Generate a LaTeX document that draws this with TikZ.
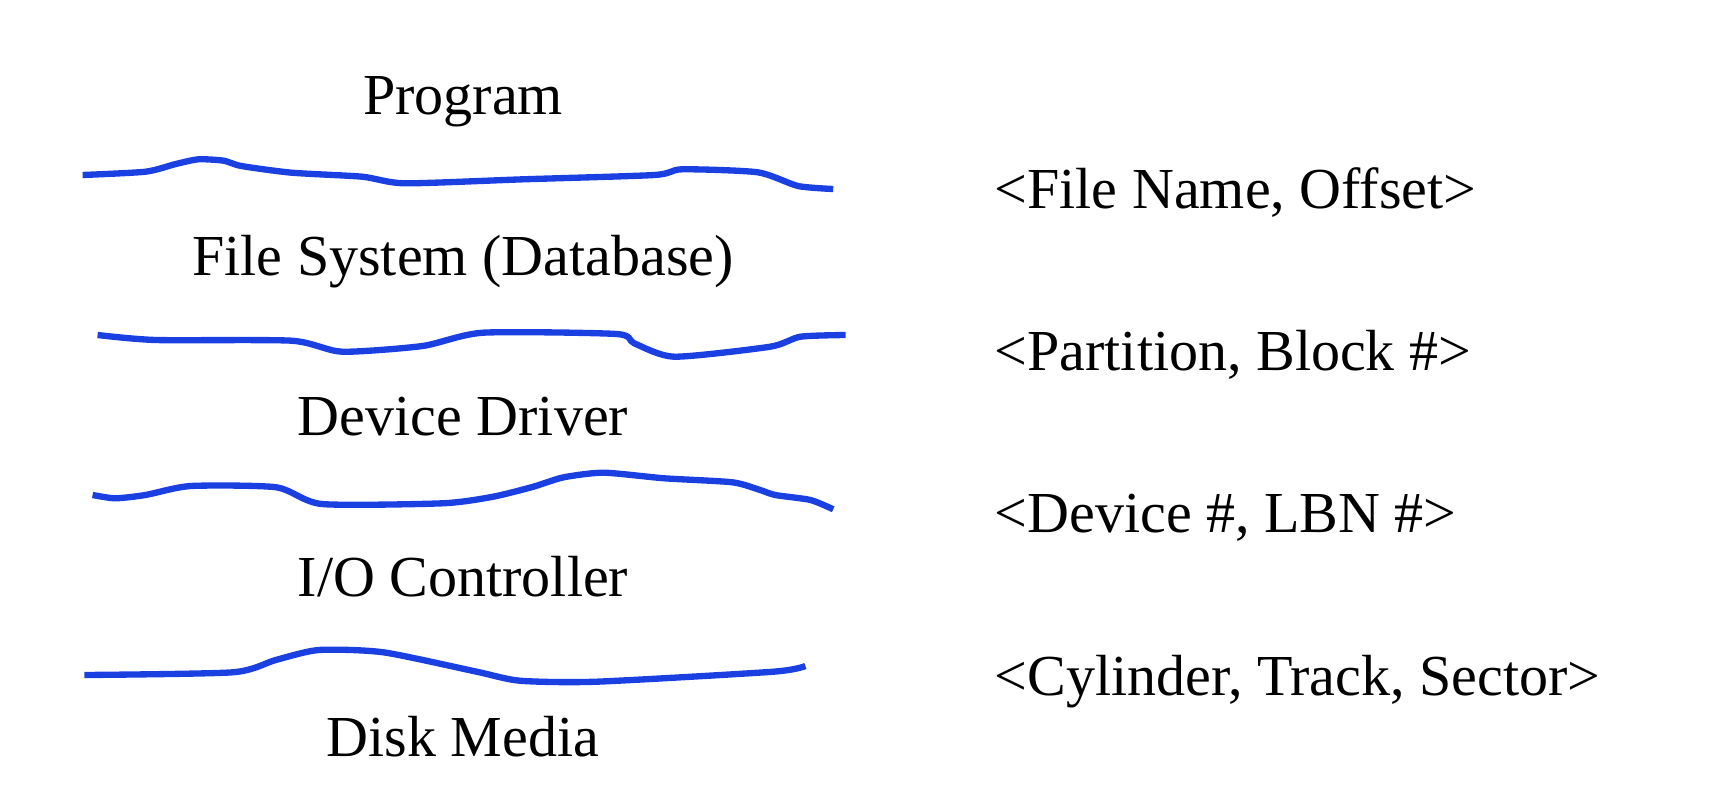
\documentclass[tikz,border=0pt]{standalone}
\usepackage{fontspec}
\setmainfont{Liberation Serif}
\definecolor{inkblue}{RGB}{27,64,226}
\begin{document}
\begin{tikzpicture}[x=0.01cm,y=-0.01cm,
  lbl/.style={inner sep=0pt,anchor=base,font=\fontsize{16.5}{20}\selectfont},
  rlbl/.style={inner sep=0pt,anchor=base west,font=\fontsize{16.5}{20}\selectfont},
  sketch/.style={draw=inkblue,line width=1.8pt,line join=round}]
\useasboundingbox (0,0) rectangle (1736,800);
% layer labels
\node[lbl] (prog) at (463,114) {Program};
\node[lbl] (fs) at (463,275) {File System (Database)};
\node[lbl] (dd) at (463,435) {Device Driver};
\node[lbl] (io) at (463,596) {I/O Controller};
\node[lbl] (disk) at (463,756) {Disk Media};
% address labels
\node[rlbl] (a1) at (994,208) {<File Name, Offset>};
\node[rlbl] (a2) at (994,370) {<Partition, Block \#>};
\node[rlbl] (a3) at (994,532) {<Device \#, LBN \#>};
\node[rlbl] (a4) at (994,695) {<Cylinder, Track, Sector>};
% hand-drawn separators
\draw[sketch] plot[smooth,tension=0.4] coordinates {
 (82.6,175) (145.6,171.7) (175.8,164) (198.5,159.3) (223.7,160.7) (241.3,166)
 (291.7,172.7) (362.2,176.7) (405,183.3) (523.4,179.3) (654.4,175) (682.1,169.3)
 (757.7,172.3) (798,186) (833.2,189)};
\draw[sketch] plot[smooth,tension=0.4] coordinates {
 (97.6,335) (155.6,340) (291.6,340.7) (342,351.7) (422.6,346) (483,332.7)
 (616.5,334) (634.2,343.3) (674.5,356.7) (770.2,346.7) (800.4,336.7) (845.7,335)};
\draw[sketch] plot[smooth,tension=0.4] coordinates {
 (92.6,495) (115.3,498.3) (145.5,495) (190.8,486) (276.5,487.3) (321.8,504)
 (442.7,503.3) (493.1,496.7) (533.4,486.7) (563.6,477.3) (603.9,472.7) (664.4,478.3)
 (732.4,482.3) (760.1,490) (775.2,495) (810.5,500) (833.2,509.3)};
\draw[sketch] plot[smooth,tension=0.4] coordinates {
 (84.4,675) (232.7,672.3) (275.7,660) (318.8,650) (383.4,652.3) (476.7,671.7)
 (519.8,680.7) (596.3,681.7) (773.3,671.7) (805.4,666)};
\end{tikzpicture}
\end{document}
